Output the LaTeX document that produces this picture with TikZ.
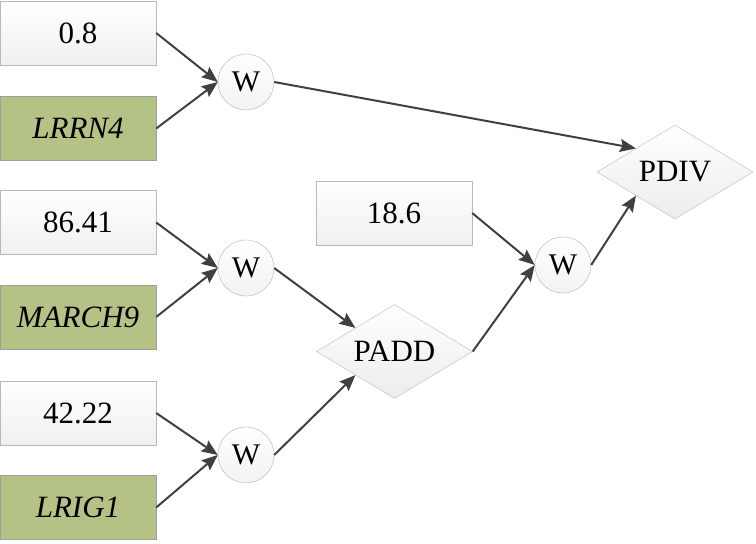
\documentclass[tikz,border=0pt]{standalone}
\usepackage{fontspec}
\setmainfont{Liberation Serif}
\usetikzlibrary{shapes.geometric,arrows.meta}
\definecolor{genegreen}{RGB}{180,194,133}
\definecolor{edgegray}{RGB}{64,64,64}

\begin{document}
\begin{tikzpicture}[x=1pt, y=1pt, font=\fontsize{31}{36}\selectfont,
  valbox/.style={rectangle, draw=gray!55, top color=white, bottom color=gray!12, minimum width=156pt, minimum height=64pt},
  genebox/.style={rectangle, draw=gray!75, fill=genegreen, minimum width=156pt, minimum height=64pt, font=\fontsize{31}{36}\selectfont\itshape},
  wnode/.style={circle, draw=gray!60, top color=white, bottom color=gray!10, minimum size=56pt, inner sep=0pt, font=\fontsize{30}{34}\selectfont},
  opnode/.style={diamond, aspect=1.66, draw=gray!55, top color=white, bottom color=gray!15, minimum width=156pt, minimum height=94pt, inner sep=1pt},
  link/.style={-{Stealth[length=16pt,width=13pt,inset=2.5pt]}, draw=edgegray, line width=2pt}]
\useasboundingbox (0,0) rectangle (756,544);

% Weighted inputs
\foreach \i/\val/\gene/\yv/\yg/\yw in {1/0.8/LRRN4/511/415.5/462, 2/86.41/MARCH9/321.5/227/276, 3/42.22/LRIG1/131/36.5/89} {
    \node[valbox] (V\i) at (78,\yv) {\val};
    \node[genebox] (G\i) at (78,\yg) {\gene};
    \node[wnode] (W\i) at (246,\yw) {W};
    \draw[link] (V\i.east) -- (W\i.west);
    \draw[link] (G\i.east) -- (W\i.west);
}

% Operators
\node[valbox] (C) at (394,331) {18.6};
\node[opnode] (PADD) at (394.5,192.5) {PADD};
\node[wnode] (W4) at (563,279) {W};
\node[opnode] (PDIV) at (675,372) {PDIV};

% Connections
\draw[link] (W1.east) -- (PDIV.north west);
\draw[link] (W2.east) -- (PADD.north west);
\draw[link] (W3.east) -- (PADD.south west);
\draw[link] (PADD.east) -- (W4.west);
\draw[link] (C.east) -- (W4.west);
\draw[link] (W4.east) -- (PDIV.south west);

\end{tikzpicture}
\end{document}
